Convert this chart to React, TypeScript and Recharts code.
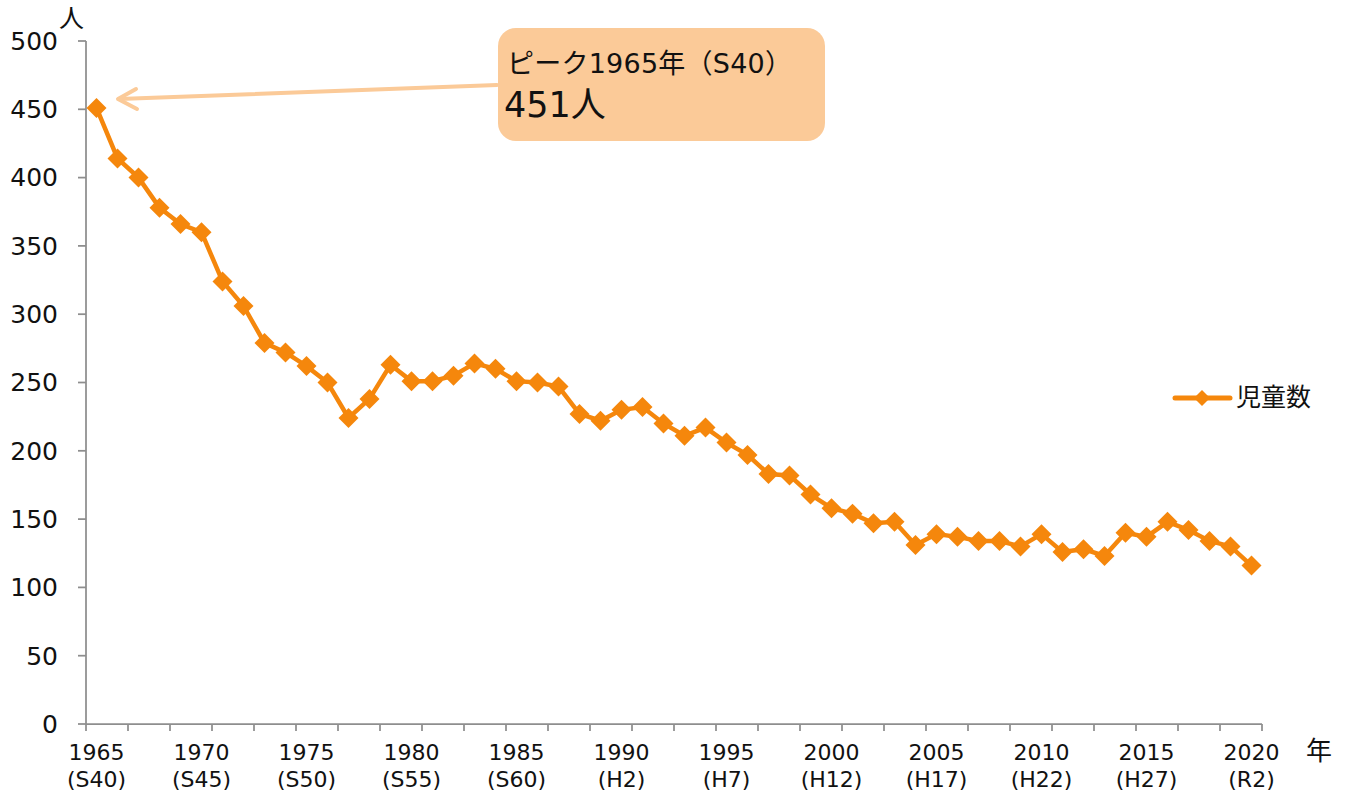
import { LineChart, Line, XAxis, YAxis, Legend } from 'recharts';

// 児童数の推移 1965-2020
const years = [
  1965, 1966, 1967, 1968, 1969, 1970, 1971, 1972, 1973, 1974,
  1975, 1976, 1977, 1978, 1979, 1980, 1981, 1982, 1983, 1984,
  1985, 1986, 1987, 1988, 1989, 1990, 1991, 1992, 1993, 1994,
  1995, 1996, 1997, 1998, 1999, 2000, 2001, 2002, 2003, 2004,
  2005, 2006, 2007, 2008, 2009, 2010, 2011, 2012, 2013, 2014,
  2015, 2016, 2017, 2018, 2019, 2020,
];

const children = [
  451, 414, 400, 378, 366, 360, 324, 306, 279, 272,
  262, 250, 224, 238, 263, 251, 251, 255, 264, 260,
  251, 250, 247, 227, 222, 230, 232, 220, 211, 217,
  206, 197, 183, 182, 168, 158, 154, 147, 148, 131,
  139, 137, 134, 134, 130, 139, 126, 128, 123, 140,
  137, 148, 142, 134, 130, 116,
];

const labelYears = [1965, 1970, 1975, 1980, 1985, 1990, 1995, 2000, 2005, 2010, 2015, 2020];
const eraLabels = ['(S40)', '(S45)', '(S50)', '(S55)', '(S60)', '(H2)', '(H7)', '(H12)', '(H17)', '(H22)', '(H27)', '(R2)'];
const yTicks = [0, 50, 100, 150, 200, 250, 300, 350, 400, 450, 500];

// tick marks sit on category boundaries, every 2 years
const boundaryTicks = [...years.filter((_, i) => i % 2 === 0).map((y) => y - 0.5), 2020.5];

const data = years.map((year, i) => ({ year, value: children[i] }));

const ORANGE = '#F5870C';
const CALLOUT = '#FBCA98';
const AXIS = '#8E8E8E';
const FONT = "'DejaVu Sans', 'Noto Sans CJK JP', sans-serif";

function Diamond(props: any) {
  const { cx, cy } = props;
  if (cx == null || cy == null) return null;
  const r = 10;
  return (
    <polygon
      points={`${cx},${cy - r} ${cx + r},${cy} ${cx},${cy + r} ${cx - r},${cy}`}
      fill={ORANGE}
    />
  );
}

function XTick({ x, y, payload }: any) {
  const v = payload.value;
  if (v % 1 !== 0) {
    return <line x1={x} x2={x} y1={y} y2={y + 7} stroke={AXIS} strokeWidth={1.75} />;
  }
  const idx = labelYears.indexOf(v);
  if (idx < 0) return null;
  return (
    <text textAnchor="middle" fontSize={22} fill="#111" fontFamily={FONT}>
      <tspan x={x} y={y + 36}>{v}</tspan>
      <tspan x={x} y={y + 63}>{eraLabels[idx]}</tspan>
    </text>
  );
}

function LegendContent() {
  return (
    <div style={{ display: 'flex', alignItems: 'center', fontFamily: FONT }}>
      <svg width={64} height={20}>
        <line x1={3} x2={58} y1={10} y2={10} stroke={ORANGE} strokeWidth={5} strokeLinecap="round" />
        <polygon points="30,2 38,10 30,18 22,10" fill={ORANGE} />
      </svg>
      <span style={{ fontSize: 25, color: '#111', lineHeight: '30px' }}>児童数</span>
    </div>
  );
}

export default function App() {
  const xTicks = [...boundaryTicks, ...labelYears].sort((a, b) => a - b);
  return (
    <div style={{ position: 'absolute', left: 0, top: 0, width: 1347, height: 794, background: '#fff' }}>
      <LineChart
        width={1347}
        height={794}
        data={data}
        margin={{ top: 41, right: 85, bottom: 0, left: 0 }}
      >
        <XAxis
          dataKey="year"
          type="number"
          domain={[1964.5, 2020.5]}
          ticks={xTicks}
          interval={0}
          height={70}
          tickLine={false}
          tickSize={0}
          tickMargin={0}
          axisLine={{ stroke: AXIS, strokeWidth: 1.75 }}
          tick={<XTick />}
        />
        <YAxis
          domain={[0, 500]}
          ticks={yTicks}
          interval={0}
          width={86}
          tickSize={8}
          tickMargin={20}
          axisLine={{ stroke: AXIS, strokeWidth: 1.75 }}
          tickLine={{ stroke: AXIS, strokeWidth: 1.75 }}
          tick={{ fill: '#111', fontSize: 25, fontFamily: FONT }}
        />
        <Legend
          layout="horizontal"
          verticalAlign="middle"
          align="center"
          wrapperStyle={{ left: 1172, top: 383, width: 170, height: 32 }}
          content={<LegendContent />}
        />
        <Line
          type="linear"
          dataKey="value"
          name="児童数"
          stroke={ORANGE}
          strokeWidth={4.5}
          dot={<Diamond />}
          activeDot={false}
          isAnimationActive={false}
        />
      </LineChart>
      <svg
        width={1347}
        height={794}
        style={{ position: 'absolute', left: 0, top: 0, pointerEvents: 'none' }}
        fontFamily={FONT}
      >
        <text x={59} y={27} fontSize={25} fill="#111">人</text>
        <text x={1306} y={760} fontSize={26} fill="#111">年</text>
        <line x1={497} y1={85} x2={119} y2={99} stroke={CALLOUT} strokeWidth={4} strokeLinecap="round" />
        <polyline points="136,89 118,99 137,109" fill="none" stroke={CALLOUT} strokeWidth={4} strokeLinecap="round" strokeLinejoin="round" />
        <rect x={498} y={28} width={327} height={113} rx={18} fill={CALLOUT} />
        <text x={507} y={73} fontSize={27} fill="#111" textLength={285} lengthAdjust="spacing">ピーク1965年（S40）</text>
        <text x={504} y={117} fontSize={35} fill="#111">451人</text>
      </svg>
    </div>
  );
}
